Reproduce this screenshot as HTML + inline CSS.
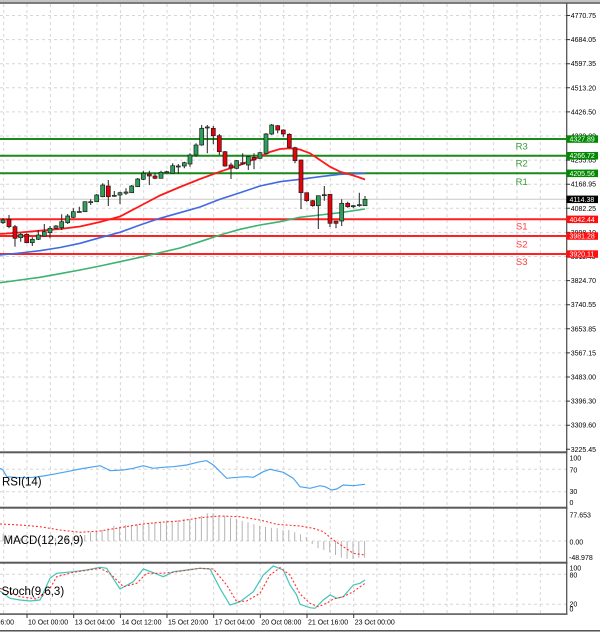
<!DOCTYPE html>
<html><head><meta charset="utf-8"><style>
html,body{margin:0;padding:0;background:#fff;width:600px;height:632px;overflow:hidden}
svg{display:block}
text{font-family:"Liberation Sans",sans-serif}
</style></head><body>
<svg width="600" height="632" viewBox="0 0 600 632" xmlns="http://www.w3.org/2000/svg">
<rect x="0" y="0" width="600" height="632" fill="#fff"/>
<!-- top bar -->
<rect x="0" y="0" width="600" height="2.2" fill="#c4c4c4"/>
<line x1="0" y1="3" x2="600" y2="3" stroke="#555" stroke-width="1.6"/>

<!-- vertical grid -->
<path d="M3.7 4V614M27 4V614M50.4 4V614M73.7 4V614M97 4V614M120.4 4V614M143.7 4V614M167 4V614M190.3 4V614M213.7 4V614M237 4V614M260.3 4V614M283.7 4V614M307 4V614M330.3 4V614M353.7 4V614M377 4V614M400.3 4V614M423.7 4V614M447 4V614M470.3 4V614M493.7 4V614M517 4V614M540.3 4V614" stroke="#d6d6d6" stroke-width="1" stroke-dasharray="3,3" fill="none"/>
<!-- horizontal grid main -->
<path d="M0 15.5H566M0 39.6H566M0 63.7H566M0 87.8H566M0 111.9H566M0 136H566M0 160.1H566M0 184.2H566M0 208.3H566M0 232.4H566M0 256.5H566M0 280.6H566M0 304.7H566M0 328.8H566M0 352.9H566M0 377H566M0 401.1H566M0 425.2H566M0 469.3H566M0 491.7H566M0 541H566M0 574.3H566M0 604.3H566" stroke="#d6d6d6" stroke-width="1" stroke-dasharray="3,3" fill="none"/>

<!-- current price line -->
<line x1="0" y1="199.3" x2="566" y2="199.3" stroke="#c8c8c8" stroke-width="1"/>

<!-- S/R lines -->
<g stroke-width="2">
<line x1="0" y1="139" x2="566" y2="139" stroke="#1a8a1a"/>
<line x1="0" y1="155.7" x2="566" y2="155.7" stroke="#1a8a1a"/>
<line x1="0" y1="173.3" x2="566" y2="173.3" stroke="#1a8a1a"/>
<line x1="0" y1="219.3" x2="566" y2="219.3" stroke="#ff2020"/>
<line x1="0" y1="236" x2="566" y2="236" stroke="#ff2020"/>
<line x1="0" y1="254" x2="566" y2="254" stroke="#ff2020"/>
</g>
<g font-size="9.5" text-anchor="middle">
<text x="521.7" y="149.3" fill="#3a9a3a">R3</text>
<text x="521.7" y="166.3" fill="#3a9a3a">R2</text>
<text x="521.7" y="185" fill="#3a9a3a">R1</text>
<text x="521.7" y="229.3" fill="#ff3b3b">S1</text>
<text x="521.7" y="247.7" fill="#ff3b3b">S2</text>
<text x="521.7" y="265" fill="#ff3b3b">S3</text>
</g>

<!-- moving averages -->
<polyline fill="none" stroke="#3cb371" stroke-width="1.6" points="0,282.7 20,280 40,277.3 60,273.7 80,270 100,266 120,261.7 140,257.3 160,252.7 180,248 200,241.7 220,235 240,229.3 260,225 280,221.7 300,217.3 320,215 340,212.7 365,209"/>
<polyline fill="none" stroke="#4169e1" stroke-width="1.6" points="0,255 20,253 40,250.7 60,247.5 80,243.3 100,237.7 120,232.3 140,225 160,218.3 180,212.7 200,207 220,199.3 240,192.7 260,186 280,181.7 300,179.3 320,176.7 340,174.3 365,173.3"/>
<polyline fill="none" stroke="#ff1a1a" stroke-width="1.8" points="0,234 20,232.5 40,230.7 60,229 80,226.5 100,222 120,216.5 140,206 160,195.5 180,187 200,179 220,171.7 240,165 260,156.7 270,152 280,149 290,148.3 300,149.5 310,153.3 320,160 330,166.7 340,171.7 350,174.5 358,177 365,179.5"/>

<!-- candles wicks -->
<path fill="none" stroke="#222" stroke-width="1" d="M3 218V224M9 215V228.3M15 225V246.7M20.7 232.7V241.7M26.7 233.3V243.3M32.3 237.3V246M38.3 230V240M44.3 224V236.7M50 226V238.3M56 225V229M61.7 214.3V230M67.7 214V224M73.3 208.3V218.3M79.3 206.7V212.3M85 201.7V211.7M90.7 199.3V205M96.7 194V202M102.7 183.3V197.3M108.3 180V206M114.3 191V196.7M120 191.7V204M126 188.3V195M131.7 185V193M137.7 178V187M143.3 170.7V180M149.3 170.7V185M155 172.7V179.3M161 170.7V178.3M166.7 170.7V173.3M172.7 163.3V173.3M178.3 164V174M184.3 161.7V168.3M190 153.3V166.7M196 143.3V156.7M201.7 125V145.7M207.3 125V153.3M213.3 126V144.3M219.3 134V155M225 151V166.7M231 162.7V179M236.7 160V169.3M242.7 153.3V165M248.3 155.7V170M254 153.3V169.3M260 151.7V159.3M266 133V153.3M271.7 124V135M277.7 125V133.3M283.3 129.3V136.7M289.3 133.3V148.3M295 146.7V163.3M301 160V209M306.7 192.7V201.7M312.7 200V206.7M318.3 195.7V229M324.3 186V200.7M330 194V227M336 221V228.3M341.7 199.3V226M347.7 201.7V207.7M353.3 205V208.3M359.3 192.7V206.7M365 196V206"/>
<!-- green bodies -->
<g fill="#2ea05a" stroke="#1c1c1c" stroke-width="0.7">
<rect x="1" y="220" width="4" height="2.7"/>
<rect x="18.7" y="234.3" width="4" height="3.4"/>
<rect x="30.3" y="239.3" width="4" height="3.4"/>
<rect x="36.3" y="235" width="4" height="4.3"/>
<rect x="42.3" y="231.7" width="4" height="4.3"/>
<rect x="48" y="228.3" width="4" height="4.4"/>
<rect x="54" y="226" width="4" height="2.3"/>
<rect x="59.7" y="221.7" width="4" height="6"/>
<rect x="65.7" y="216" width="4" height="6.7"/>
<rect x="71.3" y="211.7" width="4" height="5.6"/>
<rect x="77.3" y="211.5" width="4" height="1"/>
<rect x="83" y="201.7" width="4" height="10"/>
<rect x="88.7" y="201.7" width="4" height="1"/>
<rect x="94.7" y="195" width="4" height="6.7"/>
<rect x="100.7" y="185" width="4" height="11.7"/>
<rect x="112.3" y="195.3" width="4" height="1"/>
<rect x="118" y="192.7" width="4" height="2.3"/>
<rect x="124" y="192" width="4" height="1.2"/>
<rect x="129.7" y="186" width="4" height="6.7"/>
<rect x="135.7" y="179" width="4" height="7.7"/>
<rect x="141.3" y="173.3" width="4" height="6"/>
<rect x="159" y="172.3" width="4" height="6"/>
<rect x="164.7" y="171.7" width="4" height="1"/>
<rect x="170.7" y="165.7" width="4" height="7.6"/>
<rect x="176.3" y="166" width="4" height="1"/>
<rect x="182.3" y="162.7" width="4" height="3.3"/>
<rect x="188" y="155" width="4" height="9"/>
<rect x="194" y="145" width="4" height="10"/>
<rect x="199.7" y="128.3" width="4" height="16.7"/>
<rect x="205.3" y="127" width="4" height="1"/>
<rect x="234.7" y="160.7" width="4" height="7.6"/>
<rect x="246.3" y="156.7" width="4" height="8.3"/>
<rect x="258" y="152.7" width="4" height="5.6"/>
<rect x="264" y="134" width="4" height="19.3"/>
<rect x="269.7" y="125" width="4" height="9"/>
<rect x="316.3" y="195.7" width="4" height="10"/>
<rect x="322.3" y="194.7" width="4" height="1"/>
<rect x="339.7" y="203.3" width="4" height="17.7"/>
<rect x="351.3" y="205.7" width="4" height="1"/>
<rect x="357.3" y="204.7" width="4" height="1"/>
<rect x="363" y="199.3" width="4" height="6.4"/>
</g>
<!-- red bodies -->
<g fill="#e8000b" stroke="#1c1c1c" stroke-width="0.7">
<rect x="7" y="219.3" width="4" height="7.4"/>
<rect x="13" y="226.7" width="4" height="11.6"/>
<rect x="24.7" y="234.3" width="4" height="8.4"/>
<rect x="106.3" y="186" width="4" height="10.7"/>
<rect x="147.3" y="174" width="4" height="2"/>
<rect x="153" y="176" width="4" height="2.3"/>
<rect x="211.3" y="128.3" width="4" height="7.4"/>
<rect x="217.3" y="135.7" width="4" height="16"/>
<rect x="223" y="151.7" width="4" height="14.3"/>
<rect x="229" y="165" width="4" height="3"/>
<rect x="240.7" y="162.7" width="4" height="1.3"/>
<rect x="252" y="157.3" width="4" height="2.7"/>
<rect x="275.7" y="125.7" width="4" height="4.3"/>
<rect x="281.3" y="130" width="4" height="4"/>
<rect x="287.3" y="134.3" width="4" height="13"/>
<rect x="293" y="147.7" width="4" height="13"/>
<rect x="299" y="160" width="4" height="32.7"/>
<rect x="304.7" y="192.7" width="4" height="8"/>
<rect x="310.7" y="200.7" width="4" height="5"/>
<rect x="328" y="194.3" width="4" height="29"/>
<rect x="334" y="221" width="4" height="2.3"/>
<rect x="345.7" y="203.3" width="4" height="3.4"/>
</g>

<!-- RSI -->
<polyline fill="none" stroke="#4da3f0" stroke-width="1.2" points="0,468.3 3,470 6.7,476.7 20,477.7 33,477.3 43.3,476 53,474.3 66.7,471.7 80,469 100,465.7 106,468.5 110,470.7 123,470 133.3,468.3 143.3,465.7 153.3,468.3 163,467.3 173.3,466.7 186.7,465 200,461.7 206.7,460.7 213.3,465 226.7,478.3 236.7,477.3 246.7,476.7 253.3,477.3 263.3,471.7 270,469.3 283.3,472.3 293.3,478.3 300,486.7 310,488.3 320,485.7 325,486.7 331.7,490 336.7,489 343.3,485 353.3,485.7 365,484.3"/>

<!-- MACD histogram -->
<path fill="none" stroke="#b4b4b4" stroke-width="1" d="M3.2 541V534M9 541V535M14.8 541V537M20.7 541V538M26.5 541V539M32.2 541V539.5M38 541V539.5M43.8 541V539M49.6 541V538.5M55.5 541V538M61.3 541V537.5M67.1 541V537M73 541V536.5M78.8 541V536M84.8 541V535M90.5 541V532.3M96.3 541V531M102.1 541V530M108 541V528.3M113.8 541V525.7M119.6 541V526.7M125.6 541V525M131.4 541V525M137.2 541V524.3M143.1 541V524M148.9 541V522.7M154.8 541V522.3M160.6 541V521.7M166.4 541V521M172.2 541V521M178.1 541V520M183.9 541V519M189.7 541V519M195.6 541V517.7M201.4 541V516M207.2 541V513.3M213.1 541V513.3M218.9 541V515M224.7 541V515.7M230.5 541V517.7M236.4 541V519M242.2 541V521M248 541V522.3M253.9 541V524.3M259.7 541V525.7M265.5 541V526.7M271.4 541V527.7M277.2 541V528.3M283 541V530M288.8 541V530M294.7 541V532.3M300.5 541V534.3M306.3 541V537M312.2 541V544M318 541V548.3M323.8 541V550M329.7 541V552.3M335.5 541V555M341.3 541V557.7M347.1 541V558.7M353 541V558.7M358.8 541V557.7M364.6 541V557.7"/>
<polyline fill="none" stroke="#ff3030" stroke-width="1.1" stroke-dasharray="2,2" points="0,524 20,525 40,526.7 60,530 80,532.3 100,531 120,527.7 140,524.3 160,522.3 180,521 200,517.7 220,516 240,516.7 260,520 276.7,524.3 300,526 313.3,528.3 323.3,531.7 333.3,540 343.3,546.7 353.3,553.3 365,555"/>

<!-- Stochastic -->
<polyline fill="none" stroke="#44c4b8" stroke-width="1.2" points="0,591 10,598.3 20,600 30,601 40,600 50,578.3 56.7,573.3 73.3,571.7 86.7,570 100,567.3 106.7,568.3 120,589 133.3,581.7 143.3,569 153.3,572.7 163.3,576.7 173.3,571.7 186.7,570 200,568.3 210,569 220,588.3 230,605 240,601.7 253.3,591.7 263.3,575 273.3,566 283.3,570 290,585 296.7,595 300,604.3 310,607.7 315,608.3 323.3,600 330,595 336.7,598.3 343.3,596.7 353.3,585 360,583.3 365,580"/>
<polyline fill="none" stroke="#ff3030" stroke-width="1.1" stroke-dasharray="2,2" points="0,588.3 20,596.7 36.7,599 50,588.3 56.7,576.7 73.3,572.3 100,568.3 110,573.3 123.3,586.7 136.7,583.3 146.7,573.3 160,573.3 173.3,572.3 200,568.3 213.3,569 226.7,585 236.7,601.7 246.7,601 260,593.3 270,575 280,567.7 290,575 300,594 310,603.3 318.3,606.7 326.7,603.3 333.3,599 343.3,596.7 353.3,591.7 365,583.3"/>

<!-- panel labels -->
<g font-size="11.5" fill="#000">
<text x="2" y="485.7">RSI(14)</text>
<text x="3.5" y="544">MACD(12,26,9)</text>
<text x="1.5" y="595">Stoch(9,6,3)</text>
</g>

<!-- panel borders -->
<g fill="#5a5a5a">
<rect x="0" y="451.3" width="567.5" height="2"/>
<rect x="0" y="506.7" width="567.5" height="2"/>
<rect x="0" y="561.7" width="567.5" height="2"/>
<rect x="0" y="613.3" width="567.5" height="1.6"/>
</g>
<line x1="566.7" y1="3" x2="566.7" y2="614.5" stroke="#555" stroke-width="1.3"/>
<line x1="0" y1="630.7" x2="600" y2="630.7" stroke="#555" stroke-width="1.3"/>
<rect x="0" y="631.4" width="600" height="0.6" fill="#bbb"/>

<!-- axis ticks -->
<path fill="none" stroke="#333" stroke-width="1" d="M566 15.5H570M566 39.6H570M566 63.7H570M566 87.8H570M566 111.9H570M566 136H570M566 160.1H570M566 184.2H570M566 208.3H570M566 232.4H570M566 256.5H570M566 280.6H570M566 304.7H570M566 328.8H570M566 352.9H570M566 377H570M566 401.1H570M566 425.2H570M566 449.3H570M27 614V618M73.7 614V618M120.4 614V618M167 614V618M213.7 614V618M260.3 614V618M307 614V618M353.7 614V618"/>

<!-- price labels -->
<g font-size="7" fill="#000">
<text x="570.7" y="18">4770.75</text>
<text x="570.7" y="42.1">4684.05</text>
<text x="570.7" y="66.2">4597.35</text>
<text x="570.7" y="90.3">4513.20</text>
<text x="570.7" y="114.4">4426.50</text>
<text x="570.7" y="138.5">4339.80</text>
<text x="570.7" y="162.6">4255.65</text>
<text x="570.7" y="186.7">4168.95</text>
<text x="570.7" y="210.8">4082.25</text>
<text x="570.7" y="234.9">3998.10</text>
<text x="570.7" y="259">3911.40</text>
<text x="570.7" y="283.1">3824.70</text>
<text x="570.7" y="307.2">3740.55</text>
<text x="570.7" y="331.3">3653.85</text>
<text x="570.7" y="355.4">3567.15</text>
<text x="570.7" y="379.5">3483.00</text>
<text x="570.7" y="403.6">3396.30</text>
<text x="570.7" y="427.7">3309.60</text>
<text x="570.7" y="452">3225.45</text>
<text x="569.5" y="460.5">100</text>
<text x="569.5" y="472.5">70</text>
<text x="569.5" y="494.2">30</text>
<text x="569.5" y="504.8">0</text>
<text x="569.5" y="517.3">77.653</text>
<text x="569.5" y="544.3">0.00</text>
<text x="569" y="560">-48.978</text>
<text x="569.5" y="570.5">100</text>
<text x="569.5" y="577.5">80</text>
<text x="569.5" y="606.5">20</text>
<text x="569.5" y="611.5">0</text>
</g>

<!-- price boxes -->
<rect x="566.5" y="135.3" width="31.5" height="7.5" fill="#008a00"/>
<rect x="566.5" y="152" width="31.5" height="7.5" fill="#008a00"/>
<rect x="566.5" y="169.6" width="31.5" height="7.5" fill="#008a00"/>
<rect x="566.5" y="195.6" width="31.5" height="7.5" fill="#000"/>
<rect x="566.5" y="215.6" width="31.5" height="7.5" fill="#ff1010"/>
<rect x="566.5" y="232.3" width="31.5" height="7.5" fill="#ff1010"/>
<rect x="566.5" y="250.3" width="31.5" height="7.5" fill="#ff1010"/>
<g font-size="7" fill="#fff">
<text x="569.5" y="141.5">4327.89</text>
<text x="569.5" y="158.2">4266.72</text>
<text x="569.5" y="175.8">4205.56</text>
<text x="569.5" y="201.8">4114.38</text>
<text x="569.5" y="221.8">4042.44</text>
<text x="569.5" y="238.5">3981.28</text>
<text x="569.5" y="256.5">3920.11</text>
</g>

<!-- time labels -->
<g font-size="7" fill="#000">
<text x="14" y="624.5" text-anchor="end">16:00</text>
<text x="28" y="624.5">10 Oct 00:00</text>
<text x="74.7" y="624.5">13 Oct 04:00</text>
<text x="121.4" y="624.5">14 Oct 12:00</text>
<text x="168" y="624.5">15 Oct 20:00</text>
<text x="214.7" y="624.5">17 Oct 04:00</text>
<text x="261.3" y="624.5">20 Oct 08:00</text>
<text x="308" y="624.5">21 Oct 16:00</text>
<text x="354.7" y="624.5">23 Oct 00:00</text>
</g>
</svg>
</body></html>
